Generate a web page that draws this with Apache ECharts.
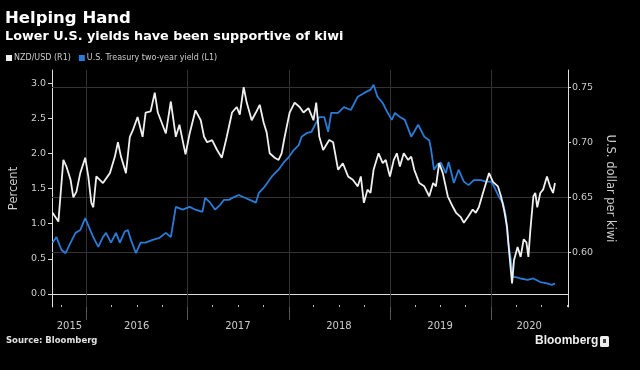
<!DOCTYPE html>
<html><head><meta charset="utf-8">
<script src="https://cdn.jsdelivr.net/npm/echarts@6/dist/echarts.min.js"></script>
<style>html,body{margin:0;padding:0;background:#000;}#c{width:640px;height:370px;}</style>
</head><body><div id="c"></div>
<script>
// NZD/USD (right axis)
const nzdDates = ['2015-09-01','2015-09-22','2015-10-10','2015-10-21','2015-11-05','2015-11-15','2015-11-26','2015-12-10','2015-12-28',
'2016-01-08','2016-01-19','2016-01-26','2016-02-06','2016-03-01','2016-03-26','2016-04-13','2016-04-24','2016-05-05','2016-05-23','2016-06-06','2016-06-17','2016-07-04','2016-07-22','2016-08-02','2016-08-20','2016-09-04','2016-09-15','2016-10-14','2016-11-01','2016-11-19','2016-12-02','2016-12-24',
'2017-01-08','2017-01-29','2017-02-17','2017-03-01','2017-03-12','2017-03-30','2017-04-17','2017-05-04','2017-05-22','2017-06-10','2017-06-27','2017-07-08','2017-07-22','2017-08-02','2017-08-20','2017-09-04','2017-09-18','2017-10-02','2017-10-13','2017-10-24','2017-11-11','2017-11-25','2017-12-06','2017-12-17',
'2018-01-04','2018-01-22','2018-02-09','2018-02-23','2018-03-13','2018-03-31','2018-04-10','2018-04-21','2018-05-05','2018-05-27','2018-06-10','2018-06-28','2018-07-15','2018-08-03','2018-08-20','2018-09-07','2018-09-18','2018-09-29','2018-10-12','2018-10-23','2018-11-03','2018-11-21','2018-12-06','2018-12-17',
'2019-01-01','2019-01-15','2019-01-26','2019-02-06','2019-02-20','2019-03-08','2019-03-19','2019-03-30','2019-04-17','2019-05-05','2019-05-23','2019-06-06','2019-06-16','2019-06-28','2019-07-11','2019-07-29','2019-08-17','2019-08-28','2019-09-14','2019-09-25','2019-10-09','2019-10-27','2019-11-07','2019-11-18','2019-12-03','2019-12-14','2019-12-25',
'2020-01-08','2020-01-26','2020-02-06','2020-02-17','2020-02-28','2020-03-06','2020-03-17','2020-03-24','2020-04-06','2020-04-17','2020-04-28','2020-05-08','2020-05-15','2020-05-22','2020-06-02','2020-06-09','2020-06-16','2020-06-27','2020-07-07','2020-07-21','2020-08-01','2020-08-12','2020-08-19'];
const nzdValues = [0.636,0.628,0.684,0.678,0.666,0.650,0.655,0.672,0.686,
0.669,0.645,0.641,0.669,0.663,0.672,0.687,0.700,0.687,0.672,0.705,0.711,0.723,0.705,0.727,0.728,0.745,0.727,0.708,0.737,0.705,0.716,0.689,
0.708,0.729,0.720,0.705,0.700,0.702,0.693,0.686,0.705,0.727,0.732,0.725,0.750,0.736,0.720,0.727,0.734,0.718,0.709,0.690,0.686,0.684,0.690,0.705,
0.727,0.736,0.732,0.727,0.731,0.720,0.736,0.705,0.693,0.702,0.700,0.675,0.681,0.669,0.666,0.660,0.669,0.645,0.657,0.654,0.675,0.690,0.681,0.684,
0.669,0.684,0.690,0.678,0.690,0.684,0.687,0.675,0.663,0.660,0.651,0.663,0.660,0.681,0.672,0.651,0.641,0.636,0.632,0.627,0.632,0.639,0.636,0.641,0.654,0.663,0.672,
0.664,0.660,0.651,0.639,0.623,0.602,0.572,0.593,0.605,0.596,0.612,0.609,0.596,0.620,0.651,0.654,0.641,0.654,0.657,0.669,0.660,0.654,0.663];

// U.S. Treasury two-year yield (left axis, percent)
const yieldDates = ['2015-09-01','2015-09-15','2015-10-03','2015-10-18','2015-11-05','2015-11-23','2015-12-10','2015-12-28',
'2016-01-15','2016-01-26','2016-02-13','2016-03-01','2016-03-12','2016-03-30','2016-04-17','2016-05-01','2016-05-19','2016-05-30','2016-06-10','2016-06-28','2016-07-15','2016-08-02','2016-08-27','2016-09-21','2016-10-14','2016-11-01','2016-11-19','2016-12-14',
'2017-01-08','2017-01-29','2017-02-23','2017-03-05','2017-03-23','2017-04-10','2017-04-28','2017-05-12','2017-05-30','2017-06-17','2017-07-04','2017-07-26','2017-08-13','2017-09-04','2017-09-15','2017-10-06','2017-10-31','2017-11-25','2017-12-13',
'2018-01-01','2018-01-19','2018-02-06','2018-02-16','2018-03-06','2018-03-24','2018-04-10','2018-04-21','2018-05-09','2018-05-23','2018-06-03','2018-06-28','2018-07-19','2018-08-13','2018-09-07','2018-09-29','2018-10-23','2018-11-03','2018-11-17','2018-12-06','2018-12-24',
'2019-01-08','2019-01-19','2019-02-06','2019-02-24','2019-03-19','2019-04-13','2019-05-05','2019-05-23','2019-05-30','2019-06-09','2019-06-23','2019-07-04','2019-07-22','2019-08-01','2019-08-20','2019-09-06','2019-09-25','2019-10-12','2019-10-31','2019-11-25','2019-12-14',
'2020-01-01','2020-01-12','2020-01-30','2020-02-13','2020-02-24','2020-03-03','2020-03-13','2020-03-20','2020-03-31','2020-04-17','2020-05-12','2020-06-02','2020-06-27','2020-07-21','2020-08-08','2020-08-19'];
const yieldValues = [0.73,0.81,0.63,0.58,0.73,0.87,0.91,1.08,
0.91,0.81,0.67,0.81,0.87,0.73,0.87,0.73,0.89,0.91,0.77,0.58,0.73,0.73,0.77,0.80,0.87,0.81,1.24,1.20,
1.24,1.20,1.17,1.37,1.30,1.20,1.27,1.34,1.34,1.38,1.41,1.37,1.34,1.30,1.44,1.53,1.67,1.77,1.87,
1.95,2.05,2.12,2.24,2.29,2.31,2.44,2.52,2.52,2.31,2.58,2.58,2.66,2.62,2.81,2.86,2.91,2.98,2.81,2.72,2.58,
2.48,2.58,2.52,2.48,2.24,2.41,2.24,2.19,2.05,1.77,1.85,1.87,1.72,1.88,1.58,1.77,1.60,1.55,1.62,1.62,1.60,
1.60,1.53,1.38,1.30,1.10,0.73,0.48,0.24,0.24,0.22,0.20,0.22,0.17,0.15,0.13,0.15];

const leftTicks = [0, 0.5, 1.0, 1.5, 2.0, 2.5, 3.0];
const rightTicks = [0.60, 0.65, 0.70, 0.75];
const rightGridLines = [0.60, 0.65, 0.75];
const yearLabels = ['2015','2016','2017','2018','2019','2020'];
const yearLabelDates = ['2015-11-01','2016-07-01','2017-07-01','2018-07-01','2019-07-01','2020-05-18'];
const yearBoundaries = ['2016-01-01','2017-01-01','2018-01-01','2019-01-01','2020-01-01'];
const quarterDates = ['2015-10-01','2016-04-01','2016-07-01','2016-10-01','2017-04-01','2017-07-01','2017-10-01','2018-04-01','2018-07-01','2018-10-01','2019-04-01','2019-07-01','2019-10-01','2020-04-01','2020-07-01','2020-10-01'];

const ts = s => Date.UTC(+s.slice(0,4), +s.slice(5,7) - 1, +s.slice(8,10));
const chart = echarts.init(document.getElementById('c'), null, {renderer: 'canvas'});
const F = 'DejaVu Sans';
const xMin = ts('2015-08-30'), xMax = ts('2020-10-05');
const labelTs = yearLabelDates.map(ts);

chart.setOption({
  backgroundColor: '#000',
  animation: false,
  title: {
    text: 'Helping Hand',
    subtext: 'Lower U.S. yields have been supportive of kiwi',
    left: 5, top: 10, itemGap: 3, padding: 0,
    textStyle: {color: '#fff', fontFamily: F, fontWeight: 'bold', fontSize: 16.5},
    subtextStyle: {color: '#fff', fontFamily: F, fontWeight: 'bold', fontSize: 12.8}
  },
  legend: {
    left: 6, top: 54, padding: 0, itemGap: 8, itemWidth: 6, itemHeight: 6,
    icon: 'rect',
    data: ['NZD/USD (R1)', 'U.S. Treasury two-year yield (L1)'],
    textStyle: {color: '#ccc', fontFamily: F, fontSize: 8, padding: [0,0,0,-3]}
  },
  grid: {left: 48, right: 72, top: 70, bottom: 63, containLabel: false},
  xAxis: [{
    type: 'value', min: xMin, max: xMax,
    axisLine: {show: true, lineStyle: {color: '#ddd', width: 1}},
    axisTick: {show: true, customValues: yearBoundaries.map(ts), length: 26, inside: false, lineStyle: {color: '#555'}},
    axisLabel: {show: true, customValues: labelTs, margin: 14, color: '#ccc', fontFamily: F, fontSize: 10,
      formatter: v => yearLabels[labelTs.indexOf(v)] || String(new Date(v).getUTCFullYear())},
    splitLine: {show: false}
  }, {
    type: 'value', min: xMin, max: xMax, position: 'top', offset: -237,
    axisLine: {show: false},
    axisTick: {show: true, customValues: quarterDates.map(ts), length: 2, inside: false, lineStyle: {color: '#bbb'}},
    axisLabel: {show: false},
    splitLine: {show: false}
  }],
  yAxis: [{
    type: 'value', position: 'left', min: -0.186, max: 3.19,
    name: 'Percent', nameLocation: 'middle', nameGap: 30,
    nameTextStyle: {color: '#ccc', fontFamily: F, fontSize: 11.5},
    axisLine: {show: true, lineStyle: {color: '#ddd'}},
    axisTick: {show: true, customValues: leftTicks, length: 4, lineStyle: {color: '#ddd'}},
    axisLabel: {customValues: leftTicks, formatter: v => v.toFixed(1), color: '#ccc', fontFamily: F, fontSize: 9.5, margin: 6},
    splitLine: {show: false}
  }, {
    type: 'value', position: 'right', min: 0.5505, max: 0.7656,
    name: 'U.S. dollar per kiwi', nameLocation: 'middle', nameGap: 26, nameRotate: -90,
    nameTextStyle: {color: '#ccc', fontFamily: F, fontSize: 11.5},
    axisLine: {show: true, lineStyle: {color: '#ddd'}},
    axisTick: {show: true, customValues: rightTicks, length: 3, lineStyle: {color: '#ddd'}},
    axisLabel: {customValues: rightTicks, formatter: v => v.toFixed(2), color: '#ccc', fontFamily: F, fontSize: 9.5, margin: 4},
    splitLine: {show: false}
  }],
  series: [{
    name: 'U.S. Treasury two-year yield (L1)', type: 'line', xAxisIndex: 0, yAxisIndex: 0,
    data: yieldDates.map((d, i) => [ts(d), yieldValues[i]]),
    showSymbol: false, symbol: 'none', color: '#2a7bd6',
    lineStyle: {color: '#2a7bd6', width: 1.8}
  }, {
    name: 'NZD/USD (R1)', type: 'line', xAxisIndex: 0, yAxisIndex: 1,
    data: nzdDates.map((d, i) => [ts(d), nzdValues[i]]),
    showSymbol: false, symbol: 'none', color: '#f0f0f0',
    lineStyle: {color: '#f0f0f0', width: 1.8},
    z: 3,
    markLine: {
      silent: true, symbol: 'none', label: {show: false}, z: 1,
      lineStyle: {color: '#333', type: 'solid', width: 1},
      data: rightGridLines.map(v => ({yAxis: v})).concat(yearBoundaries.map(d => ({xAxis: ts(d)})))
    }
  }],
  graphic: [
    {type: 'text', left: 6, top: 336, style: {text: 'Source: Bloomberg', fill: '#e0e0e0', font: 'bold 8.5px "DejaVu Sans"'}},
    {type: 'text', left: 535, top: 335, style: {text: 'Bloomberg', fill: '#eee', font: 'bold 12px "Liberation Sans"'}},
    {type: 'rect', left: 600, top: 336, shape: {width: 9, height: 11, r: 1.5}, style: {fill: '#eee'}},
    {type: 'rect', left: 603, top: 339, shape: {width: 3, height: 4}, style: {fill: '#444'}}
  ]
});
</script></body></html>
